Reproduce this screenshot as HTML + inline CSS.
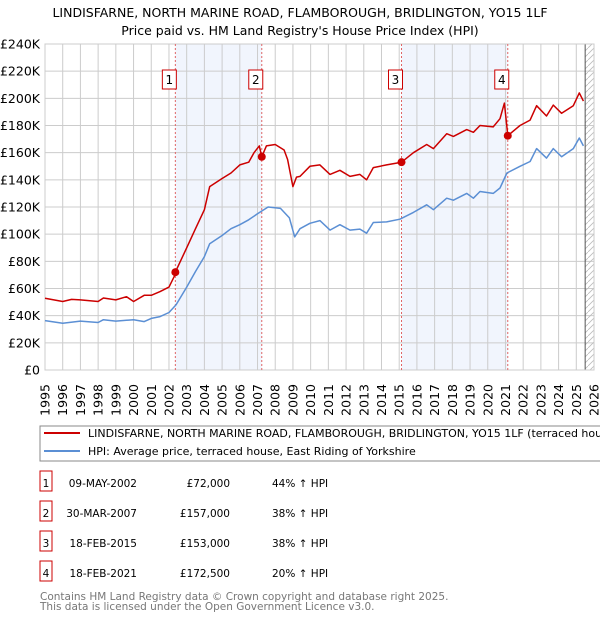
<!DOCTYPE html>
<html><head><meta charset="utf-8"><style>
body{margin:0;background:#fff;width:600px;height:620px;overflow:hidden;font-family:"DejaVu Sans","Liberation Sans",sans-serif;}
svg{position:absolute;left:0;top:0}
</style></head><body>
<svg id="c" width="600" height="620"></svg>
<script>
const years=[1995,1996,1996.5,1997,1998,1998.3,1999,1999.6,2000,2000.6,2001,2001.5,2002,2002.3,2002.36,2003,2003.5,2004,2004.3,2005,2005.5,2006,2006.5,2006.8,2007.1,2007.24,2007.5,2008,2008.5,2008.7,2009,2009.2,2009.4,2009.96,2010.52,2011.09,2011.65,2012.22,2012.78,2013.16,2013.54,2014.29,2015.13,2015.8,2016.55,2016.93,2017.68,2018.06,2018.81,2019.19,2019.56,2020.31,2020.69,2020.94,2021.13,2021.82,2022.39,2022.76,2023.32,2023.7,2024.17,2024.83,2025.17,2025.4];
const redVals=[52.8,50.4,52,51.6,50.4,53,51.6,54,50.4,55,55,57.7,61,69,72,90,104,118,135,141,145,151,153,160,165,157,165,166,162,155,135,142,142.5,150,151,144,147,142.5,144,140,149,151,153,160,166,163,174,172,177,175,180,179,185,196.5,172.5,180,184,194.6,187,195,189,194.6,204,198];
const blueYears=[1995,1996,1997,1998,1998.3,1999,2000,2000.6,2001,2001.5,2002,2002.4,2003,2003.5,2004,2004.3,2005,2005.5,2006,2006.5,2007,2007.6,2008.3,2008.8,2009.1,2009.4,2009.96,2010.52,2011.09,2011.65,2012.22,2012.78,2013.16,2013.54,2014.29,2015.04,2015.8,2016.55,2016.93,2017.68,2018.06,2018.81,2019.19,2019.56,2020.31,2020.69,2021.08,2021.82,2022.39,2022.76,2023.32,2023.7,2024.17,2024.83,2025.17,2025.4];
const blueVals=[36.4,34.4,36,35,37,36,37,35.6,38,39.3,42.3,48,61,72.5,83.5,93,99,104,107,110.6,115,120,119,112,98,104,108,110,103,107,103,103.7,100.7,108.6,109,111,116,121.6,118,126.5,125,130,126.5,131.4,130,134,145,150,153.5,163,156,163,157,163,170.8,165];
const saleYears=[2002.36,2007.24,2015.13,2021.13];
const saleVals=[72,157,153,172.5];
const yTicks=[0,20,40,60,80,100,120,140,160,180,200,220,240];
const xTicks=[1995,1996,1997,1998,1999,2000,2001,2002,2003,2004,2005,2006,2007,2008,2009,2010,2011,2012,2013,2014,2015,2016,2017,2018,2019,2020,2021,2022,2023,2024,2025,2026];

const NS="http://www.w3.org/2000/svg",svg=document.getElementById('c');
const X=y=>45+(y-1995)*17.71, Y=v=>370-v*1.3583;
function mk(t,a,p){const e=document.createElementNS(NS,t);for(const k in a)e.setAttribute(k,a[k]);(p||svg).appendChild(e);return e;}
function txt(s,a){const e=mk('text',a);e.textContent=s;return e;}

let e;
e=txt('LINDISFARNE, NORTH MARINE ROAD, FLAMBOROUGH, BRIDLINGTON, YO15 1LF',{x:300,y:17,'text-anchor':'middle','font-size':12.5,fill:'#000'});


e=txt("Price paid vs. HM Land Registry's House Price Index (HPI)",{x:300,y:35,'text-anchor':'middle','font-size':12.5,fill:'#000'});



for(let i=0;i<4;i+=2){
 e=mk('rect',{x:X(saleYears[i]),y:44,width:X(saleYears[i+1])-X(saleYears[i]),height:326,fill:'#eef3fc',opacity:0.8});
 
 
}
yTicks.forEach(v=>{
 e=mk('line',{x1:45,x2:594,y1:Y(v),y2:Y(v),stroke:'#ccc','stroke-width':1});
 
 
 e=txt((v===0?'£0':'£'+v+'K'),{x:40,y:Y(v)+4.5,'text-anchor':'end','font-size':12.5,fill:'#000'});
 
 
});
xTicks.forEach(y=>{
 e=mk('line',{x1:X(y),x2:X(y),y1:44,y2:370,stroke:'#ccc','stroke-width':1});
 
 
 e=txt(String(y),{x:0,y:0,transform:`translate(${X(y)+4.5},384) rotate(-90)`,'text-anchor':'end','font-size':12.5,fill:'#000'});
 
 
});
const defs=mk('defs',{});
const pat=mk('pattern',{id:'h',width:6,height:6,patternUnits:'userSpaceOnUse'},defs);
mk('path',{d:'M0,6 L6,0',stroke:'#bbb','stroke-width':0.8},pat);
e=mk('rect',{x:X(2025.5),y:44,width:X(2026)-X(2025.5),height:326,fill:'url(#h)'});


mk('line',{x1:X(2025.5),x2:X(2025.5),y1:44,y2:370,stroke:'#555','stroke-width':1});
mk('rect',{x:45,y:44,width:549,height:326,fill:'none',stroke:'#ccc'});

saleYears.forEach((s,i)=>{
 e=mk('line',{x1:X(s),x2:X(s),y1:44,y2:370,stroke:'#e06666','stroke-width':1,'stroke-dasharray':'2,2'});
 
 
 const g=mk('g',{});
 
 
 mk('rect',{x:X(s)-10-3,y:70,width:14,height:19,fill:'#fff',stroke:'#c00','stroke-width':1},g);
 const t=mk('text',{x:X(s)-6,y:84,'text-anchor':'middle','font-size':12,fill:'#000'},g);t.textContent=String(i+1);
});

function line(xs,vs,col,name){
 const d=xs.map((y,i)=>(i?'L':'M')+X(y).toFixed(1)+','+Y(vs[i]).toFixed(1)).join(' ');
 const p=mk('path',{d:d,fill:'none',stroke:col,'stroke-width':1.5,'stroke-linejoin':'round'});
 
 
}
line(blueYears,blueVals,'#5b8fd4','hpi-line');
line(years,redVals,'#cc0000','price-paid-line');
saleYears.forEach((s,i)=>{
 e=mk('circle',{cx:X(s),cy:Y(saleVals[i]),r:4,fill:'#cc0000'});
 
 
});

e=mk('rect',{x:40,y:426,width:570,height:35,fill:'#fff',stroke:'#888'});


mk('line',{x1:44,x2:80,y1:433,y2:433,stroke:'#cc0000','stroke-width':2});
mk('line',{x1:44,x2:80,y1:451,y2:451,stroke:'#5b8fd4','stroke-width':2});
e=txt('LINDISFARNE, NORTH MARINE ROAD, FLAMBOROUGH, BRIDLINGTON, YO15 1LF (terraced house)',{x:88,y:437,'font-size':11,fill:'#000'});


e=txt('HPI: Average price, terraced house, East Riding of Yorkshire',{x:88,y:455,'font-size':11,fill:'#000'});



const dates=['09-MAY-2002','30-MAR-2007','18-FEB-2015','18-FEB-2021'];
const prices=['£72,000','£157,000','£153,000','£172,500'];
const hpis=['44% ↑ HPI','38% ↑ HPI','38% ↑ HPI','20% ↑ HPI'];
dates.forEach((d,i)=>{
 const y=483+i*30;
 const g=mk('g',{});
 
 
 mk('rect',{x:40,y:y-12,width:12,height:20,fill:'#fff',stroke:'#c00'},g);
 let t=mk('text',{x:46,y:y+4,'text-anchor':'middle','font-size':10.5},g);t.textContent=String(i+1);
 t=mk('text',{x:137,y:y+4,'text-anchor':'end','font-size':10.5},g);t.textContent=d;
 t=mk('text',{x:230,y:y+4,'text-anchor':'end','font-size':10.5},g);t.textContent=prices[i];
 t=mk('text',{x:272,y:y+4,'font-size':10.5},g);t.textContent=hpis[i];
});
e=txt('Contains HM Land Registry data © Crown copyright and database right 2025.',{x:40,y:600,'font-size':10.5,fill:'#777'});


e=txt('This data is licensed under the Open Government Licence v3.0.',{x:40,y:610,'font-size':10.5,fill:'#777'});


</script>
</body></html>
